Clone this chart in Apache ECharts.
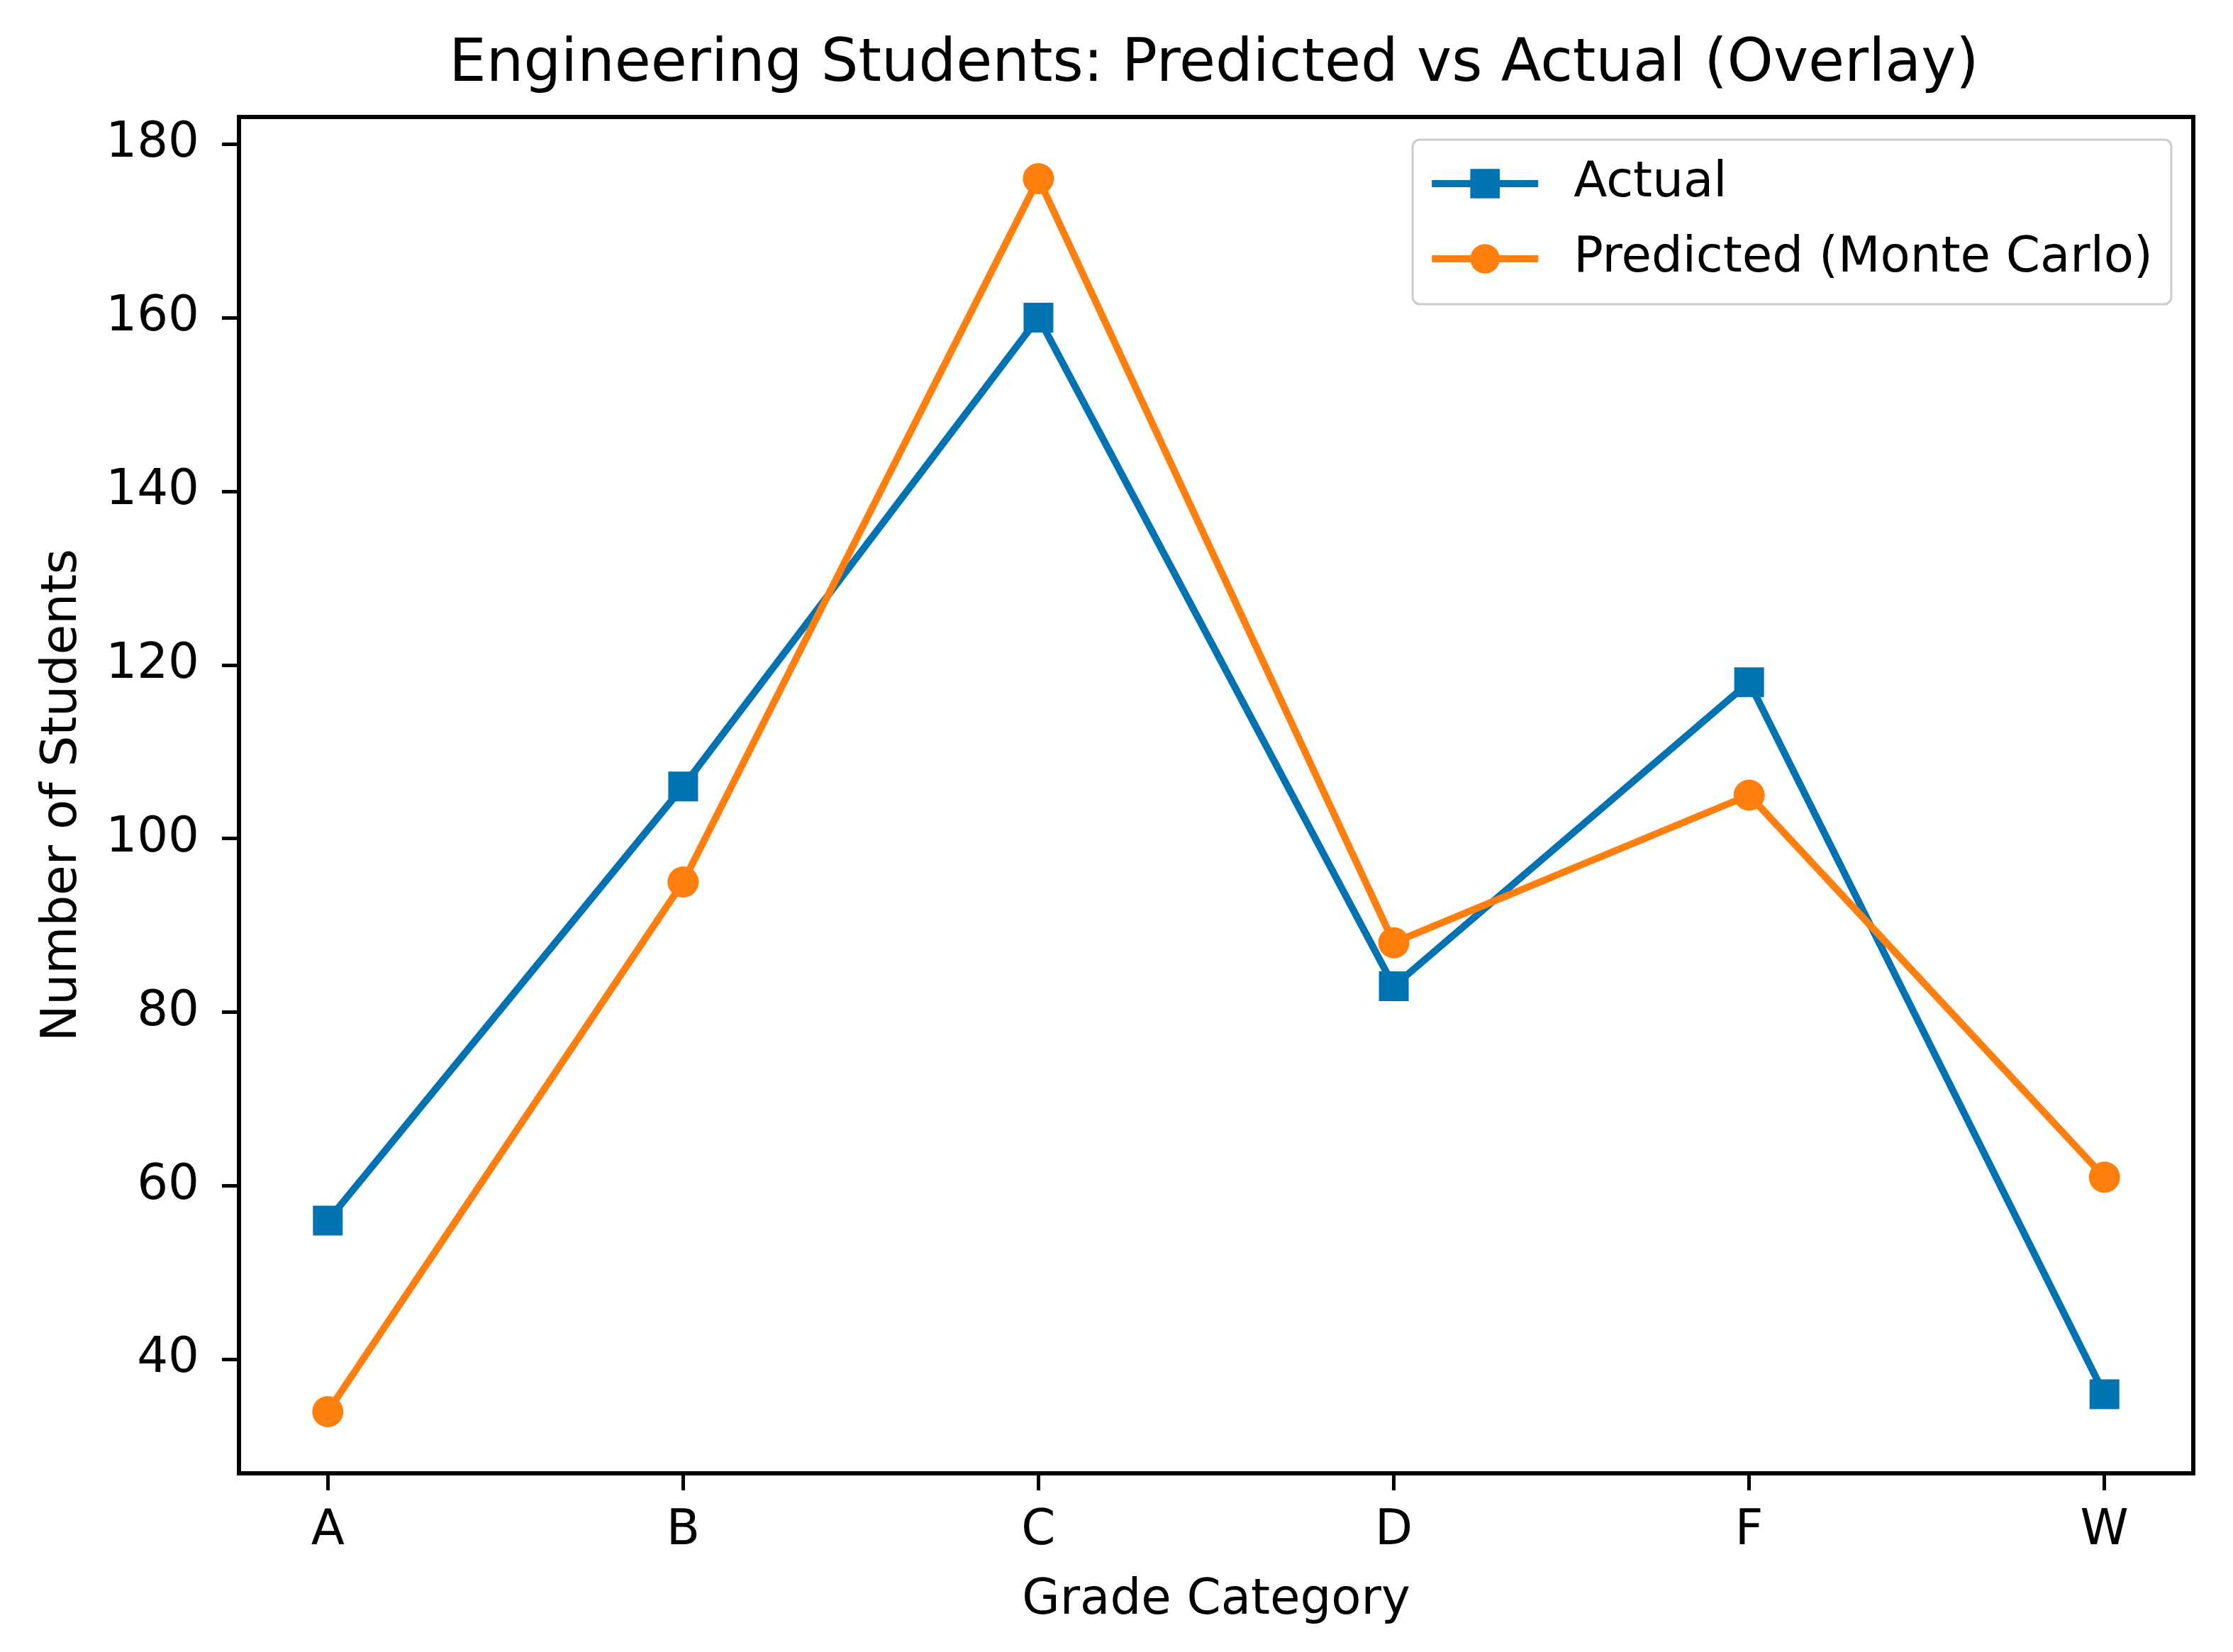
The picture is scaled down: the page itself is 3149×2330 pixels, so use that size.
<!DOCTYPE html>
<html>
<head>
<meta charset="utf-8">
<title>Engineering Students: Predicted vs Actual</title>
<script src="https://cdn.jsdelivr.net/npm/echarts@6/dist/echarts.min.js"></script>
<style>
  html, body { margin: 0; padding: 0; background: #fff; }
  #main { width: 3149px; height: 2330px; }
</style>
</head>
<body>
<div id="main"></div>
<script>
// grade categories on the x axis
const grades = ['A', 'B', 'C', 'D', 'F', 'W'];
// values
const actual = [56, 106, 160, 83, 118, 36];
const predicted = [34, 95, 176, 88, 105, 61];
// tick labels
const yTicks = [40, 60, 80, 100, 120, 140, 160, 180];
const xTicks = [0, 1, 2, 3, 4, 5];

const FONT = 'DejaVu Sans';
const BLUE = '#0173b2';
const ORANGE = '#ff7f0e';

// pair each value with its category position
const toPoints = (vals) => vals.map((v, i) => [i, v]);

const myEchart = echarts.init(document.getElementById('main'));

const option = {
  backgroundColor: '#fff',
  animation: false,
  textStyle: { fontFamily: FONT, color: '#000' },
  title: {
    text: 'Engineering Students: Predicted vs Actual (Overlay)',
    left: 1707,
    top: 46,
    textAlign: 'center',
    textStyle: { fontFamily: FONT, fontSize: 83, fontWeight: 'normal', color: '#000' }
  },
  legend: {
    orient: 'vertical',
    right: 87,
    top: 197,
    padding: [24, 26, 26, 22],
    itemWidth: 150,
    itemHeight: 52,
    itemGap: 30,
    itemStyle: { borderWidth: 0 },
    lineStyle: { width: 10 },
    backgroundColor: 'rgba(255,255,255,0.8)',
    borderColor: '#cccccc',
    borderWidth: 3,
    borderRadius: 10,
    // gap between the icon and the text comes from the left padding
    textStyle: { fontFamily: FONT, fontSize: 69, color: '#000', lineHeight: 76, padding: [0, 0, 0, 45] },
    data: ['Actual', 'Predicted (Monte Carlo)']
  },
  grid: {
    left: 337,
    right: 56,
    top: 165,
    bottom: 252,
    show: true,
    borderColor: '#000',
    borderWidth: 6
  },
  xAxis: {
    type: 'value',
    min: -0.25,
    max: 5.25,
    name: 'Grade Category',
    nameLocation: 'middle',
    nameGap: 146,
    nameTextStyle: { fontFamily: FONT, fontSize: 69, color: '#000' },
    axisLine: { show: true, onZero: false, lineStyle: { color: '#000', width: 6 } },
    axisTick: { show: true, length: 24, lineStyle: { color: '#000', width: 5 }, customValues: xTicks },
    axisLabel: {
      margin: 48,
      fontFamily: FONT, fontSize: 69, color: '#000',
      customValues: xTicks,
      formatter: (v) => grades[Math.round(v)]
    },
    splitLine: { show: false }
  },
  yAxis: {
    type: 'value',
    min: 26.9,
    max: 183.1,
    name: 'Number of Students',
    nameLocation: 'middle',
    nameGap: 213,
    nameRotate: 90,
    nameTextStyle: { fontFamily: FONT, fontSize: 69, color: '#000' },
    axisLine: { show: true, onZero: false, lineStyle: { color: '#000', width: 6 } },
    axisTick: { show: true, length: 24, lineStyle: { color: '#000', width: 5 }, customValues: yTicks },
    axisLabel: {
      margin: 56,
      fontFamily: FONT, fontSize: 69, color: '#000',
      customValues: yTicks
    },
    splitLine: { show: false }
  },
  series: [
    {
      name: 'Actual',
      type: 'line',
      data: toPoints(actual),
      symbol: 'rect',
      symbolSize: 42,
      color: BLUE,
      lineStyle: { width: 10, color: BLUE },
      itemStyle: { color: BLUE, borderWidth: 0 },
      z: 3
    },
    {
      name: 'Predicted (Monte Carlo)',
      type: 'line',
      data: toPoints(predicted),
      symbol: 'circle',
      symbolSize: 44,
      color: ORANGE,
      lineStyle: { width: 10, color: ORANGE },
      itemStyle: { color: ORANGE, borderWidth: 0 },
      z: 4
    }
  ]
};

myEchart.setOption(option);
</script>
</body>
</html>
